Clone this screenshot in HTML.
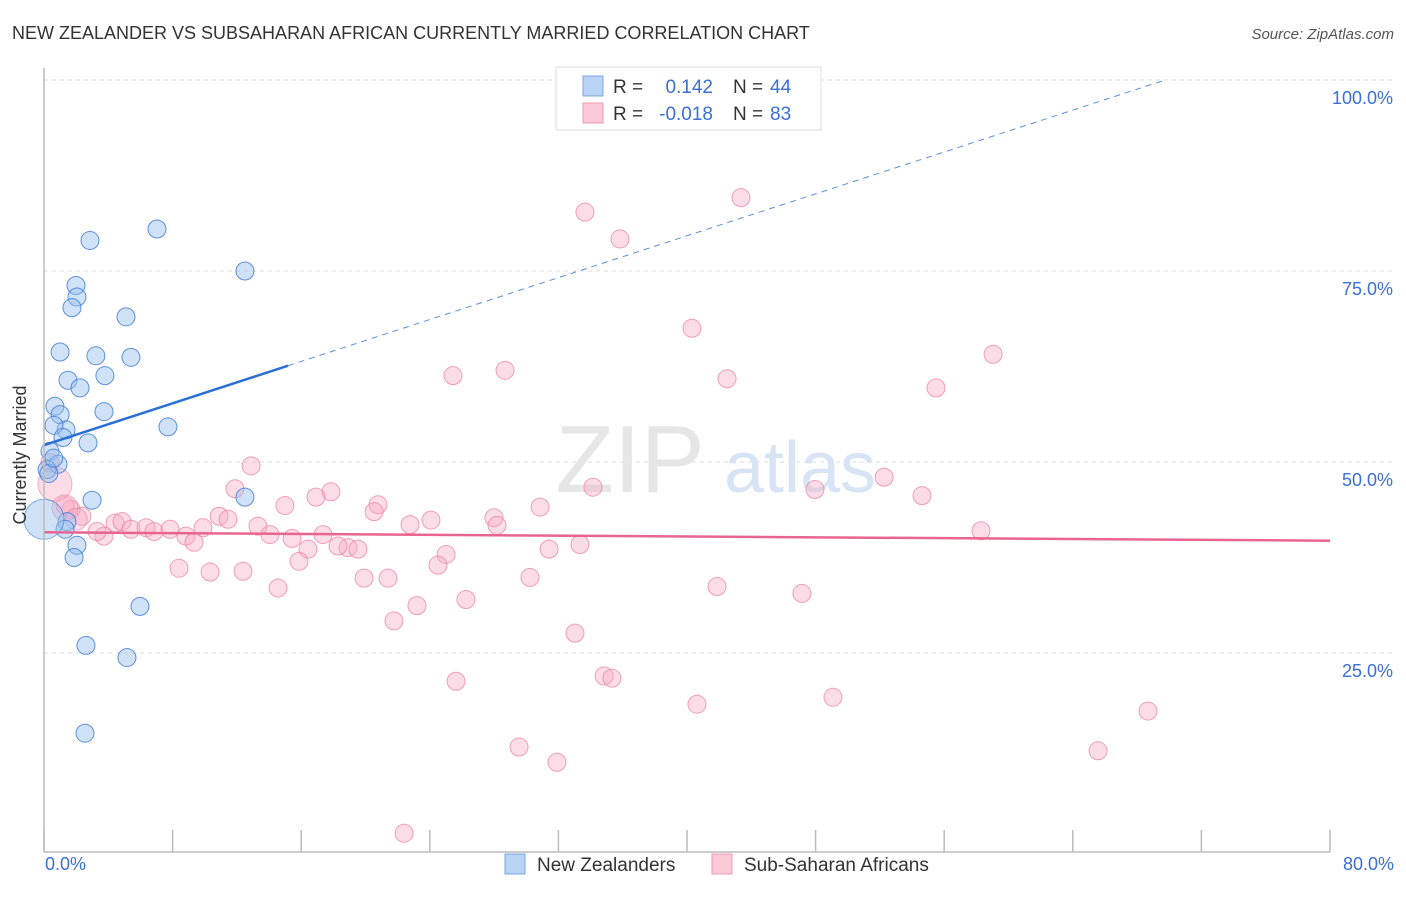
<!DOCTYPE html>
<html><head><meta charset="utf-8"><style>
body{margin:0;background:#fff;font-family:"Liberation Sans",sans-serif;}
svg text{font-family:"Liberation Sans",sans-serif;}
</style></head><body>
<svg width="1406" height="892" xmlns="http://www.w3.org/2000/svg">
<text x="12" y="39" font-size="18" fill="#333">NEW ZEALANDER VS SUBSAHARAN AFRICAN CURRENTLY MARRIED CORRELATION CHART</text>
<text x="1394" y="39" font-size="15" fill="#555" font-style="italic" text-anchor="end">Source: ZipAtlas.com</text>
<g id="grid"></g>
<text x="630" y="492" font-size="96" fill="#e6e6e6" font-family="Liberation Serif" text-anchor="middle">ZIP</text>
<text x="800" y="492" font-size="72" fill="#d6e4f5" text-anchor="middle">atlas</text>
<g id="pts"></g>
<g id="trend"></g>
<line x1="44" y1="68" x2="44" y2="852" stroke="#bbb" stroke-width="1.5"/>
<line x1="44" y1="852" x2="1330" y2="852" stroke="#bbb" stroke-width="1.5"/>
<g id="ticks"></g>
<text x="26" y="455" font-size="18" fill="#333" text-anchor="middle" transform="rotate(-90 26 455)">Currently Married</text>
<text x="45" y="870" font-size="18" fill="#3a6fd8">0.0%</text>
<text x="1394" y="870" font-size="18" fill="#3a6fd8" text-anchor="end">80.0%</text>
<g>
<rect x="556" y="67" width="265" height="63" fill="#fff" stroke="#ddd"/>
<rect x="583" y="76" width="20" height="20" fill="#b9d3f5" stroke="#7aa7e6"/>
<rect x="583" y="103" width="20" height="20" fill="#fcc9d7" stroke="#f09ab3"/>
<text x="613" y="93" font-size="19" fill="#333">R =</text>
<text x="713" y="93" font-size="19" fill="#3a6fd8" text-anchor="end">0.142</text>
<text x="733" y="93" font-size="19" fill="#333">N =</text>
<text x="770" y="93" font-size="19" fill="#3a6fd8">44</text>
<text x="613" y="120" font-size="19" fill="#333">R =</text>
<text x="713" y="120" font-size="19" fill="#3a6fd8" text-anchor="end">-0.018</text>
<text x="733" y="120" font-size="19" fill="#333">N =</text>
<text x="770" y="120" font-size="19" fill="#3a6fd8">83</text>
</g>
<g>
<rect x="505" y="854" width="20" height="20" fill="#b9d3f5" stroke="#7aa7e6"/>
<text x="537" y="871" font-size="19" fill="#333">New Zealanders</text>
<rect x="712" y="854" width="20" height="20" fill="#fcc9d7" stroke="#f09ab3"/>
<text x="744" y="871" font-size="19" fill="#333">Sub-Saharan Africans</text>
</g>
</svg>
<script>
const yTicks=[25,50,75,100];
const yTickLabels=["25.0%","50.0%","75.0%","100.0%"];
const xTicks=[0,8,16,24,32,40,48,56,64,72,80];
const blueX=[2.86,7.03,12.5,1.99,2.05,1.74,5.10,1.0,3.23,5.41,1.49,2.24,3.79,3.73,0.68,1.0,1.37,0.62,1.18,2.74,7.71,0.37,0.87,0.19,2.99,12.5,1.43,1.31,2.05,1.87,5.97,2.61,5.16,2.55,0.3,0.6];
const blueY=[79.0,80.5,75.0,73.1,71.6,70.2,69.0,64.4,63.9,63.7,60.7,59.7,61.3,56.6,57.3,56.2,54.2,54.8,53.2,52.5,54.6,51.4,49.7,49.0,45.0,45.4,42.2,41.2,39.1,37.5,31.1,26.0,24.4,14.5,48.5,50.5];
const pinkX=[43.36,33.65,35.83,40.31,59.04,28.68,25.44,42.49,55.49,12.88,52.26,54.62,11.88,47.96,17.85,34.15,14.99,16.92,20.78,20.53,30.86,27.99,28.18,24.07,22.77,10.89,11.45,9.89,13.31,14.06,15.43,17.36,4.42,4.85,5.41,6.35,6.84,7.84,8.83,9.33,3.73,3.30,2.36,1.68,1.31,0.37,18.91,19.53,16.42,18.29,25.01,31.42,33.34,15.86,24.51,8.40,10.33,12.38,19.91,21.40,30.23,14.56,41.87,47.15,26.25,23.20,21.77,33.03,34.84,35.33,25.63,40.62,49.08,68.68,58.29,29.55,31.91,65.57,22.40];
const pinkY=[84.6,82.7,79.2,67.5,64.1,62.0,61.3,60.9,59.7,49.5,48.0,45.6,46.5,46.4,46.1,46.7,44.3,45.4,44.4,43.5,44.1,42.7,41.7,42.4,41.8,42.9,42.5,41.4,41.6,40.5,40.0,40.5,42.0,42.2,41.2,41.4,40.9,41.2,40.3,39.5,40.3,40.9,42.9,43.8,44.3,49.9,38.8,38.6,38.6,39.0,37.9,38.6,39.2,37.0,36.5,36.1,35.6,35.7,34.8,34.8,34.9,33.5,33.7,32.8,32.0,31.2,29.2,27.6,22.0,21.7,21.3,18.3,19.2,17.4,41.0,12.7,10.7,12.2,1.4];
const bigBlue=[[0,42.5,20]];
const bigPink=[[0.68,47.1,17],[1.3,44.0,13],[2.0,42.5,11]];
const blueTrend=[0,52.2,15.18,69.75]; // x0,y0,xSolidEnd,xDashEnd
const blueSlope=(100-52.2)/69.75;
const pinkTrend=[0,40.8,80,39.7];
const X=v=>44+v/80*1286, Y=v=>844-v*7.64;
const NS="http://www.w3.org/2000/svg";
function mk(tag,attrs,parent){const e=document.createElementNS(NS,tag);for(const k in attrs)e.setAttribute(k,attrs[k]);parent.appendChild(e);return e;}
const grid=document.getElementById('grid');
yTicks.forEach((t,i)=>{
 const l=mk('line',{x1:44,x2:1393,y1:Y(t),y2:Y(t),stroke:'#ddd','stroke-dasharray':'4,4'},grid);
 
 
 const tx=mk('text',{x:1393,y:Y(t)+24,'font-size':18,fill:'#3a6fd8','text-anchor':'end'},grid);
 tx.textContent=yTickLabels[i];
 
 
});
const ticks=document.getElementById('ticks');
xTicks.forEach(t=>{
 const l=mk('line',{x1:X(t),x2:X(t),y1:830,y2:852,stroke:'#bbb','stroke-width':1.5},ticks);
 
 
});
const pts=document.getElementById('pts');
pinkX.forEach((x,i)=>{
 const c=mk('circle',{cx:X(x),cy:Y(pinkY[i]),r:9,fill:'rgba(248,170,195,0.4)',stroke:'rgba(236,130,165,0.75)','stroke-width':1},pts);
 
 
});
bigPink.forEach(p=>{
 const c=mk('circle',{cx:X(p[0]),cy:Y(p[1]),r:p[2],fill:'rgba(248,170,195,0.4)',stroke:'rgba(236,130,165,0.6)'},pts);
 
 
});
blueX.forEach((x,i)=>{
 const c=mk('circle',{cx:X(x),cy:Y(blueY[i]),r:9,fill:'rgba(150,190,240,0.45)',stroke:'rgba(60,120,210,0.8)','stroke-width':1},pts);
 
 
});
bigBlue.forEach(p=>{
 const c=mk('circle',{cx:X(p[0]),cy:Y(p[1]),r:p[2],fill:'rgba(150,190,240,0.45)',stroke:'rgba(60,120,210,0.6)'},pts);
 
 
});
const tr=document.getElementById('trend');
const ys=blueTrend[1]+blueSlope*blueTrend[2];
const b1=mk('line',{x1:X(blueTrend[0]),y1:Y(blueTrend[1]),x2:X(blueTrend[2]),y2:Y(ys),stroke:'#2a6fd6','stroke-width':2.5},tr);


const b2=mk('line',{x1:X(blueTrend[2]),y1:Y(ys),x2:X(blueTrend[3]),y2:Y(blueTrend[1]+blueSlope*blueTrend[3]),stroke:'#5a90de','stroke-width':1,'stroke-dasharray':'6,5'},tr);


const p1=mk('line',{x1:X(pinkTrend[0]),y1:Y(pinkTrend[1]),x2:X(pinkTrend[2]),y2:Y(pinkTrend[3]),stroke:'#e8658f','stroke-width':2.5},tr);


</script>
</body></html>
